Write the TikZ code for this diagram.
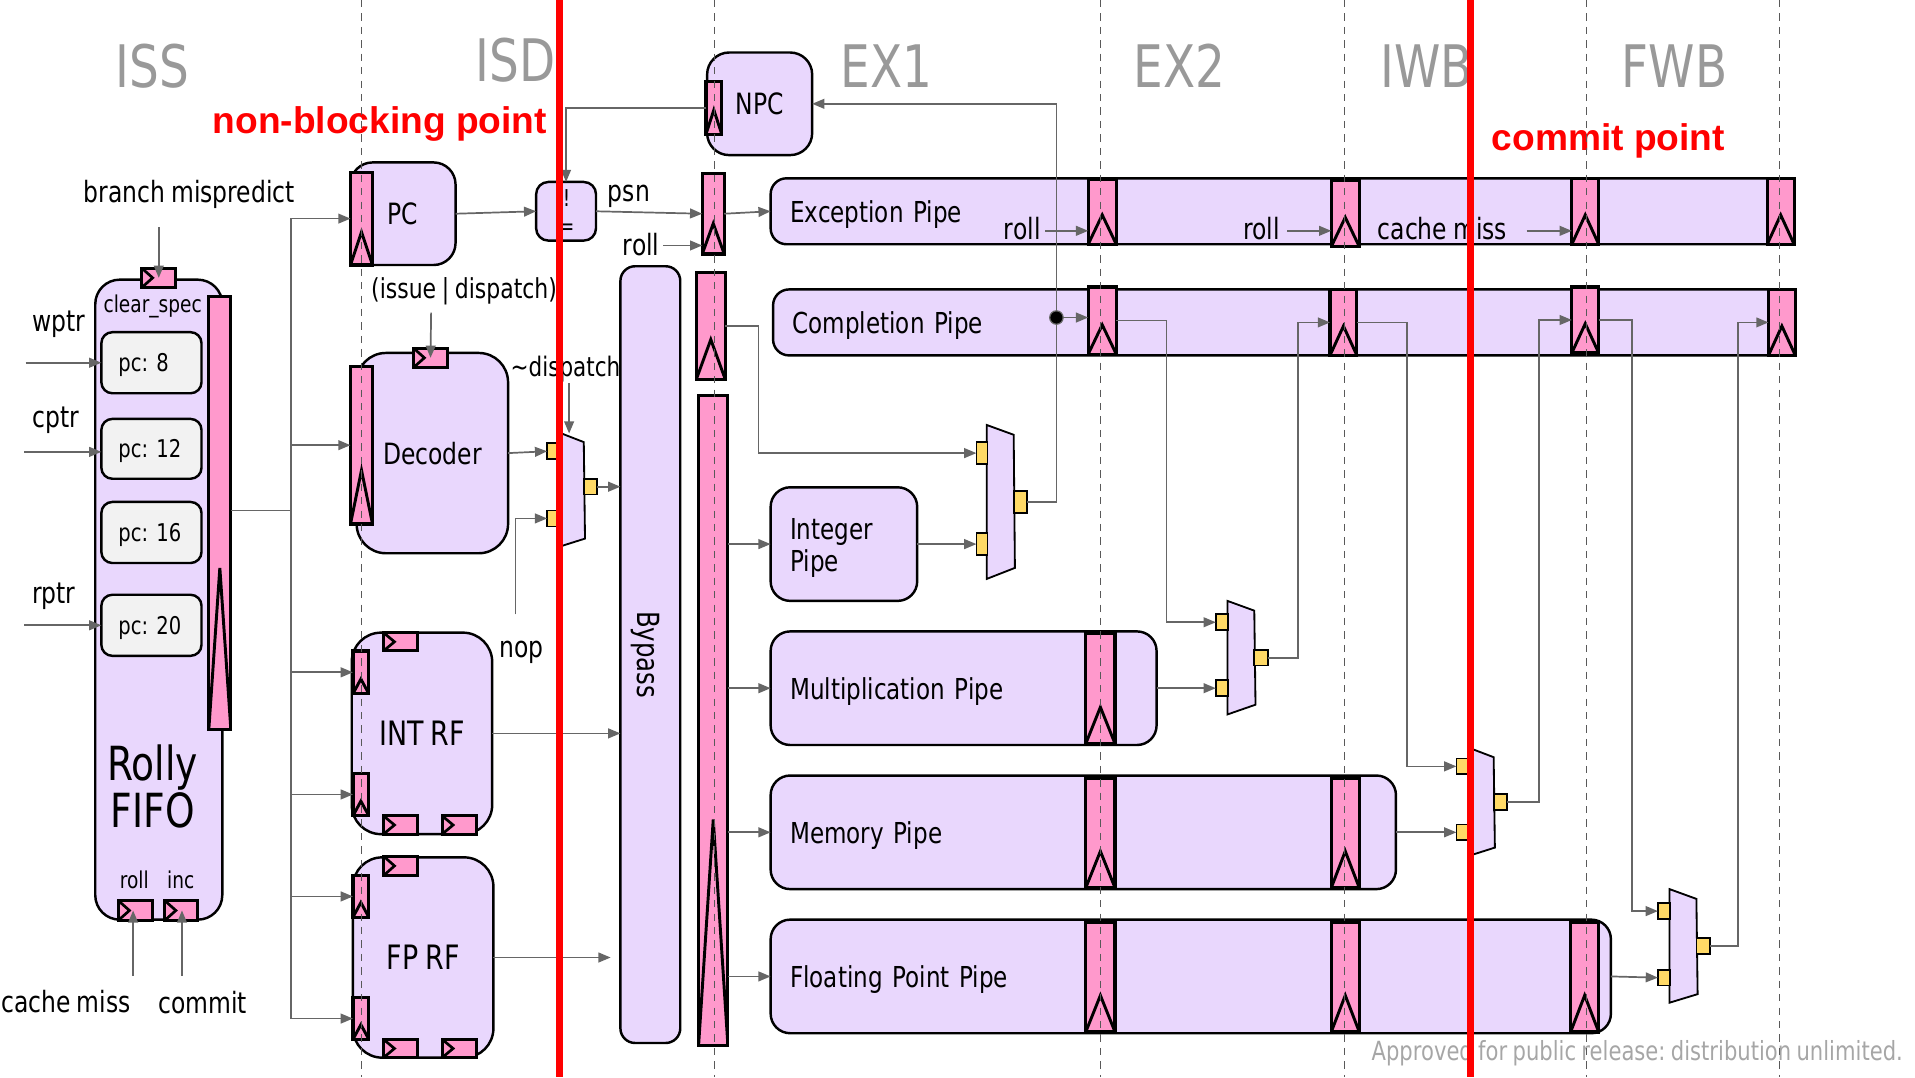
\documentclass[tikz,border=0pt]{standalone}
\usepackage{fontspec}
\setmainfont[FakeStretch=0.8,WordSpace=0.8]{DejaVu Sans}
\newfontfamily\notefont{Liberation Sans}
\usepackage{xcolor}
\usetikzlibrary{arrows.meta}
\definecolor{lilac}{HTML}{E9D7FD}
\definecolor{regpink}{HTML}{FF99CC}
\definecolor{portyellow}{HTML}{FFD966}
\definecolor{wiregray}{HTML}{666666}
\frenchspacing

\begin{document}
\begin{tikzpicture}[
    x=1pt, y=-1pt,
    every node/.style={inner sep=0pt, outer sep=0pt},
    box/.style={
        draw=black,
        fill=lilac,
        line width=2pt,
        align=center,
        text depth=0pt,
        font=\fontsize{24}{26}\selectfont
    },
    pipe/.style={box, rounded corners=16pt, inner xsep=16pt, align=left, minimum height=93, font=\fontsize{23.6}{26}\selectfont},
    entry/.style={box, fill=black!5, rounded corners=9pt, inner xsep=14pt, text width=54pt, align=left, font=\fontsize{20}{22}\selectfont},
    vreg/.style={
        draw=black,
        fill=regpink,
        line width=2.6pt,
        path picture={\draw[line width=2.4pt] (path picture bounding box.south west) -- ([yshift=#1 pt]path picture bounding box.south) -- (path picture bounding box.south east);}
    },
    hreg/.style={
        draw=black,
        fill=regpink,
        line width=2.4pt,
        minimum width=28, minimum height=16,
        path picture={\draw[line width=2.2pt] (path picture bounding box.north west) -- ([xshift=9pt]path picture bounding box.west) -- (path picture bounding box.south west);}
    },
    port/.style={draw=black, fill=portyellow, line width=1.4pt, minimum width=10, minimum height=13},
    muxbody/.style={draw=black, fill=lilac, line width=1.5pt},
    arrow/.style={-{Triangle[length=10pt,width=8pt]}, draw=wiregray, line width=1.4pt},
    wire/.style={draw=wiregray, line width=1.4pt},
    stage/.style={text=black!40, font=\fontsize{48}{50}\selectfont},
    lbl/.style={text depth=0pt, font=\fontsize{24}{26}\selectfont},
    small/.style={text depth=0pt, font=\fontsize{19}{21}\selectfont},
    redlbl/.style={text=red, text depth=0pt, font=\notefont\bfseries\fontsize{30.4}{32}\selectfont},
    boundary/.style={draw=black!65, line width=1.2pt, dash pattern=on 6pt off 5pt},
    commitline/.style={draw=red, line width=6pt}
]
\useasboundingbox (0,0) rectangle (1568,882);

% stage names
\node[stage] (iss) at (125,54) {ISS};
\node[stage] (isd) at (422,49) {ISD};
\node[stage] (ex1) at (726,54) {EX1};
\node[stage] (ex2) at (966,54) {EX2};
\node[stage] (iwb) at (1168,54) {IWB};
\node[stage] (fwb) at (1371,54) {FWB};
\node[redlbl] (nonblock) at (311,98) {non-blocking point};
\node[redlbl] (commitpt) at (1317,112) {commit point};

% rolly fifo
\node[box, rounded corners=20pt, minimum width=104, minimum height=524] (fifo) at (130,491) {};
\node[vreg=132, minimum width=18, minimum height=354] (fiforeg) at (180,420) {};
\node[hreg] (clrreg) at (130,227.5) {};
\node[hreg] (rollreg) at (111,745.5) {};
\node[hreg, minimum width=27] (increg) at (148.5,745.5) {};
\node[entry, minimum height=50] (pca) at (124,297) {pc: 8};
\node[entry, minimum height=49] (pcb) at (124,367.5) {pc: 12};
\node[entry, minimum height=50] (pcc) at (124,436) {pc: 16};
\node[entry, minimum height=50] (pcd) at (124,512) {pc: 20};
\node[small] (clrlbl) at (125,249) {clear\_spec};
\node[small] (rolllbl) at (110,720) {roll};
\node[small] (inclbl) at (148,720) {inc};
\node[align=center, font=\fontsize{38.5}{39}\selectfont] (fifolbl) at (125,644) {Rolly\\FIFO};

% issue stage
\node[box, rounded corners=18pt, minimum width=86, minimum height=84] (pc) at (330,175) {PC};
\node[vreg=27, minimum width=18, minimum height=76] (pcreg) at (296,179) {};
\node[box, rounded corners=24pt, minimum width=124, minimum height=164] (decoder) at (354,371) {Decoder};
\node[vreg=44, minimum width=18, minimum height=129] (decreg) at (296,364.5) {};
\node[hreg] (dispreg) at (352.5,293) {};

\node[box, rounded corners=24pt, minimum width=115, minimum height=165, font=\fontsize{27.5}{29}\selectfont] (intrf) at (345.5,600.5) {INT RF};
\node[vreg=12, minimum width=13, minimum height=35] (intrega) at (295.5,550.5) {};
\node[vreg=12, minimum width=13, minimum height=35] (intregb) at (295.5,650.5) {};
\node[hreg, minimum height=15] (intregc) at (328,525.5) {};
\node[hreg, minimum height=15] (intregd) at (328,675.5) {};
\node[hreg, minimum height=15] (intrege) at (376,675.5) {};

\node[box, rounded corners=24pt, minimum width=115, minimum height=164, font=\fontsize{27.5}{29}\selectfont] (fprf) at (346.5,784) {FP RF};
\node[vreg=12, minimum width=13, minimum height=34] (fprega) at (295.5,734) {};
\node[vreg=12, minimum width=13, minimum height=34] (fpregb) at (295.5,834) {};
\node[hreg] (fpregc) at (328,709) {};
\node[hreg, minimum height=15] (fpregd) at (328,858.5) {};
\node[hreg, minimum height=15] (fprege) at (376,858.5) {};

\node[box, rounded corners=10pt, minimum width=49, minimum height=48] (cmp) at (463.5,173) {};
\node[small] (cmpa) at (464,162) {!};
\node[small] (cmpb) at (464,188) {=};

\node[box, rounded corners=12pt, minimum width=49, minimum height=636] (bypass) at (532.5,536) {};
\node[lbl, rotate=-90, font=\fontsize{25}{27}\selectfont] (bypasslbl) at (531,536) {Bypass};

% next pc and the registers in front of the pipes
\node[box, rounded corners=18pt, minimum width=86, minimum height=84] (npc) at (622,85) {NPC};
\node[vreg=20, minimum width=13, minimum height=43] (npcreg) at (584.5,88.5) {};
\node[vreg=25, minimum width=18, minimum height=66] (psnreg) at (584,175) {};
\node[vreg=33, minimum width=24, minimum height=88] (lreg) at (582,267) {};
\node[vreg=185, minimum width=24, minimum height=532] (bigreg) at (584,590) {};

% pipes
\node[pipe, rounded corners=13pt, minimum height=54, text width=803pt] (excpipe) at (1048.5,173) {Exception Pipe};
\node[vreg=24, minimum width=23, minimum height=53] (excrega) at (902.5,173.5) {};
\node[vreg=24, minimum width=23, minimum height=54] (excregb) at (1101.5,175) {};
\node[vreg=24, minimum width=22, minimum height=54] (excregc) at (1298,173) {};
\node[vreg=24, minimum width=22, minimum height=54] (excregd) at (1458,173) {};

\node[pipe, rounded corners=13pt, minimum height=54, text width=801pt] (cmppipe) at (1049.5,264) {Completion Pipe};
\node[vreg=24, minimum width=23, minimum height=55] (cmprega) at (902.5,262.5) {};
\node[vreg=24, minimum width=22, minimum height=54] (cmpregb) at (1100,264) {};
\node[vreg=24, minimum width=22, minimum height=54] (cmpregc) at (1298,262) {};
\node[vreg=24, minimum width=22, minimum height=54] (cmpregd) at (1459,264) {};

\node[pipe, text width=88pt, text depth=24pt] (intpipe) at (691,445.5) {Integer\\Pipe};

\node[pipe, text width=284pt] (mulpipe) at (789,563.5) {Multiplication Pipe};
\node[vreg=30, minimum width=24, minimum height=90] (mulreg) at (901,564) {};

\node[pipe, text width=480pt] (mempipe) at (887,681.5) {Memory Pipe};
\node[vreg=30, minimum width=24, minimum height=90] (memrega) at (901,682) {};
\node[vreg=30, minimum width=23, minimum height=90] (memregb) at (1101.5,682) {};

\node[pipe, text width=656pt] (fppipe) at (975,799.5) {Floating Point Pipe};
\node[vreg=30, minimum width=24, minimum height=90] (fprega2) at (901,800) {};
\node[vreg=30, minimum width=23, minimum height=90] (fpregb2) at (1101.5,800) {};
\node[vreg=30, minimum width=23, minimum height=90] (fpregc2) at (1297.5,800) {};

% muxes
\draw[muxbody] (460,355) -- (478,362) -- (479,441) -- (460,447) -- cycle;
\node[port] (muxaa) at (453,369.5) {};
\node[port] (muxab) at (453,424.5) {};
\node[port, minimum width=11] (muxao) at (483.5,398.5) {};

\draw[muxbody] (808,348) -- (830,356) -- (831,465) -- (808,474) -- cycle;
\node[port, minimum width=9, minimum height=18] (muxba) at (804,371) {};
\node[port, minimum width=9, minimum height=18] (muxbb) at (804,445.5) {};
\node[port, minimum width=11, minimum height=18] (muxbo) at (835.5,411) {};

\draw[muxbody] (1005,492) -- (1027,500) -- (1028,577) -- (1005,585) -- cycle;
\node[port] (muxca) at (1000.5,509.5) {};
\node[port] (muxcb) at (1000.5,563.5) {};
\node[port, minimum width=11] (muxco) at (1032.5,538.5) {};

\draw[muxbody] (1202,612) -- (1223,620) -- (1224,694) -- (1202,701) -- cycle;
\node[port] (muxda) at (1197.5,627.5) {};
\node[port] (muxdb) at (1197.5,681.5) {};
\node[port, minimum width=11] (muxdo) at (1228.5,656.5) {};

\draw[muxbody] (1367,728) -- (1389,736) -- (1390,814) -- (1367,821) -- cycle;
\node[port] (muxea) at (1362.5,746) {};
\node[port] (muxeb) at (1362.5,800.5) {};
\node[port, minimum width=11] (muxeo) at (1394.5,774.5) {};

% free labels
\node[lbl] (brlbl) at (155,157) {branch mispredict};
\node[lbl] (wptr) at (48,263) {wptr};
\node[lbl] (cptr) at (46,342) {cptr};
\node[lbl] (rptr) at (44,486) {rptr};
\node[lbl] (cmiss) at (54,820) {cache miss};
\node[lbl] (commit) at (166,821) {commit};
\node[lbl, font=\fontsize{22.5}{24}\selectfont] (issdisp) at (380,236) {(issue | dispatch)};
\node[lbl, font=\fontsize{22}{24}\selectfont] (notdisp) at (463,300) {\textasciitilde dispatch};
\node[lbl] (nop) at (427,532) {nop};
\node[lbl] (psn) at (515,158) {psn};
\node[lbl] (rollpsn) at (525,200) {roll};
\node[lbl] (rollexa) at (837,187) {roll};
\node[lbl] (rollexb) at (1033,187) {roll};
\node[lbl] (cmissex) at (1181,187) {cache miss};
\node[text=black!35, font=\fontsize{21.6}{24}\selectfont, anchor=east] (approved) at (1558,862) {Approved for public release: distribution unlimited.};

% wire ends
\coordinate (brin) at (130,186);
\coordinate (wptrin) at (21,297);
\coordinate (cptrin) at (20,370);
\coordinate (rptrin) at (20,512);
\coordinate (cmissin) at (109,799);
\coordinate (commitin) at (149,799);
\coordinate (issin) at (353,256);
\coordinate (notin) at (466,314);
\coordinate (notout) at (466,355);
\coordinate (nopin) at (422,503);
\coordinate (rollin) at (543,201);
\coordinate (rollain) at (856,189);
\coordinate (rollbin) at (1054,189);
\coordinate (missin) at (1250,189);
\coordinate (trunk) at (238,418);
\coordinate (fpout) at (500,784);

% fifo outputs
\draw[wire] (fiforeg.east |- trunk) -- (trunk);
\draw[arrow] (trunk) |- (pcreg.west);
\draw[arrow] (trunk) |- (decreg.west);
\draw[arrow] (trunk) |- (intrega.west);
\draw[arrow] (trunk) |- (intregb.west);
\draw[arrow] (trunk) |- (fprega.west);
\draw[arrow] (trunk) |- (fpregb.west);

% inputs
\draw[arrow] (brin) -- (clrreg.center);
\draw[arrow] (wptrin) -- (pca.west);
\draw[arrow] (cptrin) -- (cptrin -| pcb.west);
\draw[arrow] (rptrin) -- (pcd.west);
\draw[arrow] (cmissin) -- (cmissin |- rollreg.center);
\draw[arrow] (commitin) -- (commitin |- increg.center);
\draw[arrow] (issin) -- (dispreg.center);
\draw[arrow] (notin) -- (notout);
\draw[arrow] (pc.east) -- (cmp.west);
\draw[arrow] (cmp.east) -- (psnreg.west);
\draw[arrow] (psnreg.east) -- (excpipe.west);
\draw[arrow] (decoder.east) -- (muxaa.west);
\draw[arrow] (nopin) |- (muxab.west);
\draw[arrow] (muxao.east) -- (bypass.west |- muxao);
\draw[arrow] (npcreg.west) -| (cmp.north);
\draw[arrow] (rollin) -- (rollin -| psnreg.west);
\draw[arrow] (rollain) -- (rollain -| excrega.west);
\draw[arrow] (rollbin) -- (rollbin -| excregb.west);
\draw[arrow] (missin) -- (missin -| excregc.west);
\draw[arrow] (intrf.east) -- (bypass.west |- intrf);
\draw[arrow] (fprf.east) -- (fpout);

% execution wiring
\draw[arrow] (muxbo.east) -- ++(24,0) |- (npc.east);
\node[circle, fill=black, draw=wiregray, line width=1pt, minimum size=11] (dot) at (865,260) {};
\draw[arrow] (dot.east) -- (dot -| cmprega.west);
\draw[arrow] (lreg.east) -- ++(27,0) |- (muxba.west);
\draw[arrow] (bigreg.east |- intpipe) -- (intpipe.west);
\draw[arrow] (bigreg.east |- mulpipe) -- (mulpipe.west);
\draw[arrow] (bigreg.east |- mempipe) -- (mempipe.west);
\draw[arrow] (bigreg.east |- fppipe) -- (fppipe.west);
\draw[arrow] (intpipe.east) -- (muxbb.west);
\draw[arrow] (mulpipe.east) -- (muxcb.west);
\draw[arrow] (mempipe.east) -- (muxdb.west);
\draw[arrow] (fppipe.east) -- (muxeb.west);
\draw[arrow] (cmprega.east) -- ++(41,0) |- (muxca.west);
\draw[arrow] (muxco.east) -- ++(25,0) |- (cmpregb.west);
\draw[arrow] (cmpregb.east) -- ++(41,0) |- (muxda.west);
\draw[arrow] (muxdo.east) -- ++(26,0) |- (cmpregc.west);
\draw[arrow] (cmpregc.east) -- ++(27,0) |- (muxea.west);
\draw[arrow] (muxeo.east) -- ++(23,0) |- (cmpregd.west);

% stage boundaries
\draw[boundary] (296,0) -- (296,882);
\draw[boundary] (585,0) -- (585,882);
\draw[boundary] (901,0) -- (901,882);
\draw[boundary] (1101,0) -- (1101,882);
\draw[boundary] (1299,0) -- (1299,882);
\draw[boundary] (1457,0) -- (1457,882);

\draw[commitline] (458,0) -- (458,882);
\draw[commitline] (1204,0) -- (1204,882);

\end{tikzpicture}
\end{document}
